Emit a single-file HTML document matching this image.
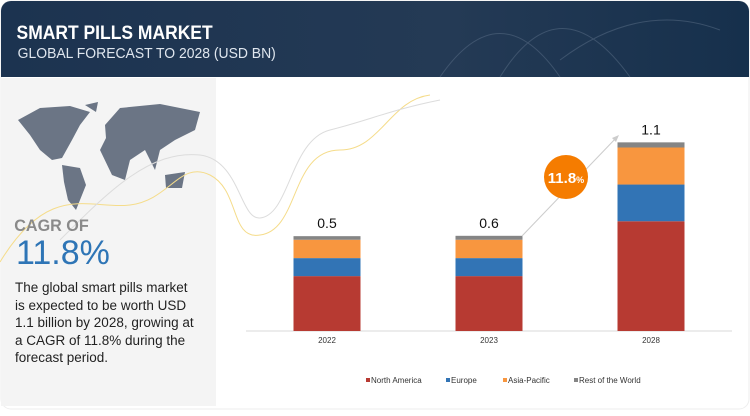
<!DOCTYPE html>
<html><head><meta charset="utf-8"><style>
body{margin:0;width:750px;height:411px;overflow:hidden;background:#fff;font-family:"Liberation Sans",sans-serif}
#wrap{position:relative;width:750px;height:411px}
</style></head><body><div id="wrap">
<svg width="750" height="411" xmlns="http://www.w3.org/2000/svg" id="svg">
<defs><linearGradient id="hg" x1="0" x2="1"><stop offset="0" stop-color="#1c3350"/><stop offset="0.6" stop-color="#243a55"/><stop offset="1" stop-color="#16304c"/></linearGradient></defs>
<rect x="1" y="1" width="748" height="408" rx="10" fill="#fff" stroke="#eee"/>
<path d="M1 11 a10 10 0 0 1 10 -10 H739 a10 10 0 0 1 10 10 V77 H1 Z" fill="url(#hg)"/>
<path d="M440 77 Q500 -10 560 77 M500 77 Q560 -20 630 77 M560 60 Q640 0 720 30" stroke="#5b6f88" fill="none" opacity="0.5"/>
<text x="18" y="39" fill="#fff" font-size="19" font-weight="bold" transform="scale(0.92,1)">SMART PILLS MARKET</text>
<text x="19" y="58" fill="#dfe6ee" font-size="15" transform="scale(0.93,1)">GLOBAL FORECAST TO 2028 (USD BN)</text>
<rect x="1" y="78" width="215" height="328" fill="#f4f4f4"/>
<g fill="#6b7585">
<path d="M18 120 L40 108 L70 106 L90 112 L80 125 L72 140 L62 158 L52 160 L40 150 L30 135 Z"/>
<path d="M62 165 L80 168 L86 185 L76 210 L68 200 L64 182 Z"/>
<path d="M85 105 L98 102 L96 112 Z"/>
<path d="M105 125 L120 108 L160 104 L200 112 L195 130 L175 140 L160 150 L155 170 L145 150 L130 160 L125 180 L112 175 L100 150 L106 138 Z"/>
<path d="M165 175 L185 172 L182 188 L166 188 Z"/>
</g>
<path d="M0 262 C50 180 90 210 130 205 C170 200 180 160 210 175 C240 190 230 240 260 235 C300 230 290 150 340 150 C380 150 390 100 430 95" stroke="#f5dc8a" fill="none" stroke-width="1"/>
<path d="M60 240 C110 190 150 150 200 155 C240 160 240 220 260 218 C290 215 290 140 330 130 C370 120 390 110 440 100" stroke="#dcdcdc" fill="none" stroke-width="1"/>
<text x="15" y="231" fill="#8a8a8a" font-size="17" font-weight="bold" transform="scale(0.95,1)">CAGR OF</text>
<text x="16" y="264" fill="#2e75b6" font-size="34">11.8%</text>
<g fill="#222" font-size="13.5">
<text x="15" y="292">The global smart pills market</text>
<text x="15" y="310">is expected to be worth USD</text>
<text x="15" y="327">1.1 billion by 2028, growing at</text>
<text x="15" y="345">a CAGR of 11.8% during the</text>
<text x="15" y="362">forecast period.</text>
</g>
<line x1="246" y1="331" x2="732" y2="331" stroke="#d9d9d9"/>
<g id="bars"></g>
<line x1="522" y1="236" x2="617" y2="137" stroke="#ccc" stroke-width="1"/>
<polygon points="619,135 612,138 616,142" fill="#ccc"/>
<circle cx="566" cy="177" r="22" fill="#f57c00"/>
<text x="566" y="183" text-anchor="middle" fill="#fff" font-size="15" font-weight="bold">11.8<tspan font-size="9">%</tspan></text>
<g id="legend" font-size="8" fill="#333"></g>
</svg>
<script>
const categories=["2022","2023","2028"];
const totals=["0.5","0.6","1.1"];
const northAmerica=[0.32,0.32,0.64];
const europe=[0.105,0.105,0.214];
const asiaPacific=[0.107,0.107,0.216];
const restOfWorld=[0.021,0.023,0.03];
const seriesNames=["North America","Europe","Asia-Pacific","Rest of the World"];
const colors=["#b73a32","#3274b5","#f8963f","#858585"];
const NS="http://www.w3.org/2000/svg";
const base=331,scale=171.5,bw=67;
const xc=i=>[327,489,651][i];
const y=v=>base-v*scale;
const g=document.getElementById('bars');
const series=[northAmerica,europe,asiaPacific,restOfWorld];
categories.forEach((c,i)=>{
  let acc=0;
  series.forEach((s,k)=>{
    const r=document.createElementNS(NS,'rect');
    r.setAttribute('x',xc(i)-bw/2);r.setAttribute('width',bw);
    r.setAttribute('y',y(acc+s[i]));r.setAttribute('height',s[i]*scale);
    r.setAttribute('fill',colors[k]);
    
    
    g.appendChild(r);acc+=s[i];
  });
  const t=document.createElementNS(NS,'text');
  t.setAttribute('x',xc(i));t.setAttribute('y',y(acc)-8);t.setAttribute('text-anchor','middle');
  t.setAttribute('font-size','14');t.setAttribute('fill','#111');t.textContent=totals[i];
  
  
  g.appendChild(t);
  const l=document.createElementNS(NS,'text');
  l.setAttribute('x',xc(i));l.setAttribute('y',base+12);l.setAttribute('text-anchor','middle');
  l.setAttribute('font-size','8');l.setAttribute('fill','#333');l.textContent=c;
  
  
  g.appendChild(l);
});
const lg=document.getElementById('legend');
const lx=[366,446,503,574];
seriesNames.forEach((n,k)=>{
  const r=document.createElementNS(NS,'rect');
  r.setAttribute('x',lx[k]);r.setAttribute('y',378);r.setAttribute('width',4);r.setAttribute('height',4);r.setAttribute('fill',colors[k]);
  
  
  lg.appendChild(r);
  const t=document.createElementNS(NS,'text');
  t.setAttribute('x',lx[k]+5);t.setAttribute('y',383);t.textContent=n;
  
  
  lg.appendChild(t);
});
</script>
</div></body></html>
